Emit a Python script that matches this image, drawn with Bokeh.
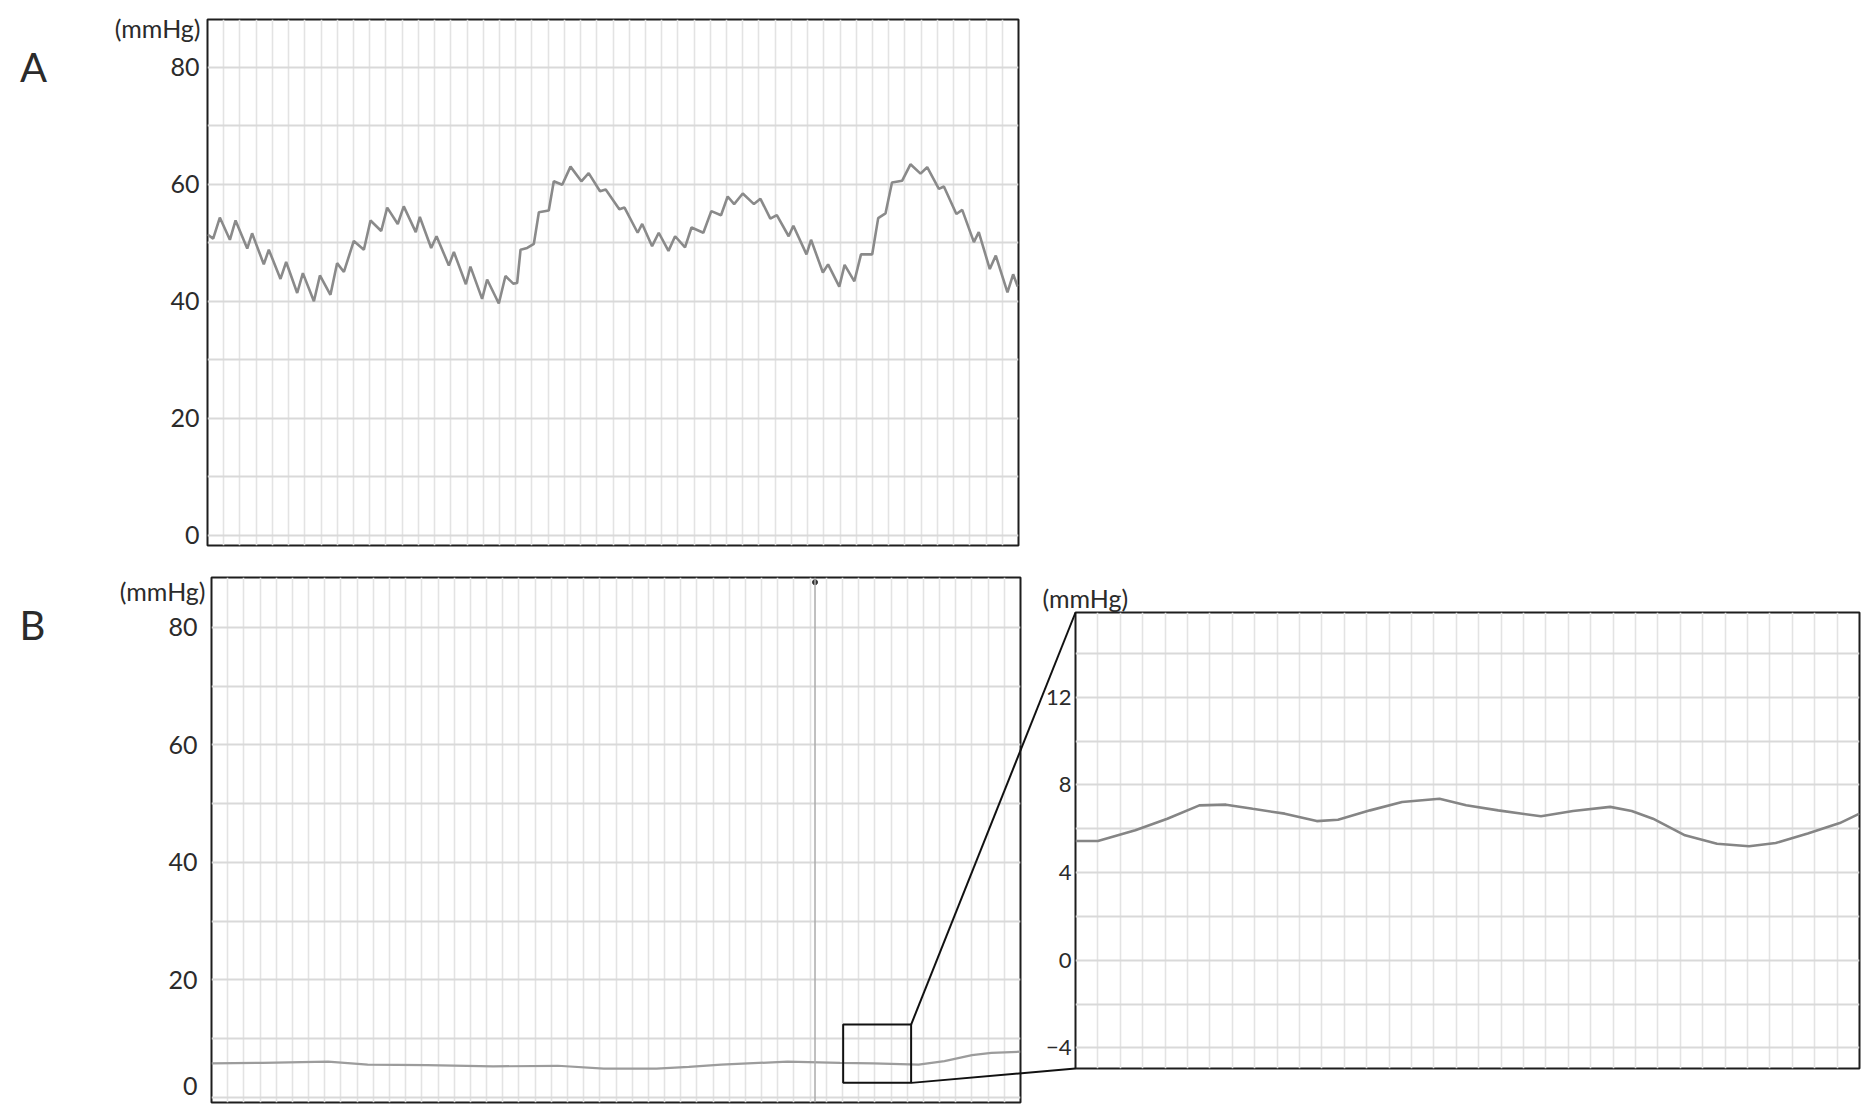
from bokeh.plotting import figure
from bokeh.layouts import column, row
from bokeh.models import FixedTicker, BoxAnnotation, Span
from bokeh.core.properties import value
from bokeh.embed import file_html
from bokeh.resources import INLINE

# ---------------- data ----------------
# Panel A: pressure trace (mmHg) against time (grid units)
A_T = [0.00, 0.35, 0.76, 1.38, 1.73, 2.45, 2.75, 3.47, 3.78, 4.50, 4.85, 5.53, 5.88, 6.56,
       6.93, 7.58, 7.99, 8.41, 9.02, 9.64, 10.05, 10.71, 11.08, 11.73, 12.10, 12.84, 13.09,
       13.79, 14.12, 14.88, 15.19, 15.93, 16.21, 16.93, 17.24, 17.96, 18.37, 18.85, 19.09,
       19.30, 19.71, 20.12, 20.43, 21.04, 21.35, 21.87, 22.38, 23.05, 23.50, 24.20, 24.55,
       25.39, 25.71, 26.52, 26.80, 27.41, 27.82, 28.42, 28.83, 29.44, 29.84, 30.57, 31.06,
       31.66, 32.07, 32.47, 33.00, 33.69, 34.09, 34.70, 35.10, 35.83, 36.12, 36.93, 37.21,
       37.94, 38.26, 38.95, 39.28, 39.88, 40.29, 40.98, 41.35, 41.80, 42.20, 42.83, 43.34,
       43.96, 44.37, 45.09, 45.40, 46.17, 46.53, 47.25, 47.55, 48.23, 48.60, 49.32, 49.67,
       49.95]
A_P = [51.4, 50.7, 54.3, 50.5, 53.8, 49.0, 51.6, 46.3, 48.8, 43.8, 46.7, 41.4, 44.8, 40.0,
       44.4, 41.1, 46.5, 45.0, 50.3, 48.8, 53.8, 52.0, 56.0, 53.2, 56.2, 51.8, 54.4,
       49.1, 51.1, 46.1, 48.4, 42.9, 45.9, 40.4, 43.7, 39.6, 44.3, 43.0, 43.1,
       48.8, 49.1, 49.8, 55.2, 55.5, 60.5, 59.9, 63.0, 60.5, 61.9, 58.8, 59.1,
       55.7, 56.0, 51.7, 53.2, 49.4, 51.7, 48.6, 51.1, 49.2, 52.6, 51.7, 55.4,
       54.7, 57.9, 56.6, 58.4, 56.6, 57.5, 54.1, 54.7, 51.1, 52.9, 48.0, 50.5,
       44.9, 46.3, 42.5, 46.2, 43.4, 48.0, 48.0, 54.2, 55.0, 60.3, 60.6, 63.4,
       61.8, 62.9, 59.2, 59.6, 54.9, 55.6, 50.1, 51.8, 45.5, 47.8, 41.5, 44.6,
       42.5]

# Panel B: near-flat trace
B_T = [0, 3.16, 7.2, 9.65, 13.3, 17.4, 21.4, 24.25, 27.5, 29.5, 31.5, 35.6, 38.85, 40.9,
       43.7, 45.3, 47.0, 48.2, 50]
B_P = [5.8, 5.9, 6.1, 5.6, 5.5, 5.3, 5.4, 4.9, 4.9, 5.2, 5.6, 6.1, 5.9, 5.8,
       5.6, 6.2, 7.2, 7.6, 7.8]

# Panel C: magnified view of the boxed part of B
C_T = [0, 1.0, 2.67, 4.1, 5.53, 6.72, 7.91, 9.34, 10.77, 11.72, 13.15, 14.58, 16.25, 17.44,
       18.87, 20.78, 22.21, 23.87, 24.83, 25.78, 27.21, 28.64, 30.07, 31.26, 32.69, 34.12, 35]
C_P = [5.44, 5.44, 5.93, 6.46, 7.07, 7.10, 6.91, 6.69, 6.35, 6.41, 6.84, 7.22, 7.37, 7.07,
       6.84, 6.57, 6.81, 7.0, 6.81, 6.46, 5.70, 5.32, 5.20, 5.35, 5.78, 6.26, 6.69]

AB_TICKS = [0, 20, 40, 60, 80]
C_TICKS = [-4, 0, 4, 8, 12]
ZOOM_T = [39.04, 43.24]     # extent of the box drawn in B (time)
ZOOM_P = [2.49, 12.41]      # extent of the box drawn in B (mmHg)
CURSOR_T = 37.3             # cursor line in B
UNIT = "(mmHg)"
PANEL_LETTERS = ["A", "B"]
B_ZERO_LABEL = "0"          # drawn slightly above its gridline, as in the original

FONT = "Lato"
TXT = "#2b2b2b"

# ranges
A_X, A_Y = (0, 50), (-1.76, 88.15)
B_X, B_Y = (0, 50), (-0.85, 88.5)
C_X, C_Y = (0, 35), (-4.94, 15.87)

# page geometry (pixels): borders and frame sizes of each canvas
W, H = 1865, 1110
A_G = dict(bl=207, bt=19, fw=811, fh=526, br=10, bb=15)
ROW2_TOP = A_G["bt"] + A_G["fh"] + A_G["bb"]
B_G = dict(bl=211, bt=17, fw=809, fh=525, br=10, bb=8)
SPLIT = B_G["bl"] + B_G["fw"] + B_G["br"]
C_G = dict(bl=45, bt=52, fw=784, fh=456, br=W - SPLIT - 45 - 784, bb=42)


def no_align(p):
    if "frame_align" in p.properties():
        p.frame_align = False


def panel(xr, yr, g, ticks, ygrid_step, n_vgrid, tick_size, standoff):
    p = figure(width=g["bl"] + g["fw"] + g["br"], height=g["bt"] + g["fh"] + g["bb"],
               x_range=xr, y_range=yr, x_axis_location=None,
               min_border_left=g["bl"], min_border_right=g["br"],
               min_border_top=g["bt"], min_border_bottom=g["bb"],
               toolbar_location=None, output_backend="svg",
               background_fill_color="white", border_fill_color=None)
    no_align(p)
    p.outline_line_color = "#1e1e1e"
    p.outline_line_width = 2
    ax = p.yaxis[0]
    ax.ticker = FixedTicker(ticks=ticks)
    ax.axis_line_color = None
    ax.major_tick_line_color = None
    ax.minor_tick_line_color = None
    ax.major_tick_out = 0
    ax.major_tick_in = 0
    ax.major_label_standoff = standoff
    ax.major_label_text_font = FONT
    ax.major_label_text_font_size = tick_size
    ax.major_label_text_color = TXT
    gy = []
    v = int(yr[0] // ygrid_step) * ygrid_step
    while v <= yr[1]:
        gy.append(v)
        v += ygrid_step
    p.ygrid.ticker = FixedTicker(ticks=gy)
    p.ygrid.grid_line_color = "#d9d9d9"
    p.ygrid.grid_line_width = 2
    p.xgrid.ticker = FixedTicker(ticks=list(range(0, n_vgrid + 1)))
    p.xgrid.grid_line_color = "#e3e3e3"
    p.xgrid.grid_line_width = 1.6
    return p


def lin(v, r, a, b):
    return a + (v - r[0]) / (r[1] - r[0]) * (b - a)


# ---------- A ----------
pa = panel(A_X, A_Y, A_G, AB_TICKS, 10, 50, "25px", 8)
pa.line(A_T, A_P, line_color="#8a8a8a", line_width=2.6)

# ---------- B ----------
pb = panel(B_X, B_Y, B_G, AB_TICKS, 10, 50, "25px", 14)
pb.yaxis[0].major_label_overrides = {0: ""}
pb.add_layout(Span(location=CURSOR_T, dimension="height", line_color="#ababab", line_width=1.5))
pb.line(B_T, B_P, line_color="#9c9c9c", line_width=2.2)
pb.scatter([CURSOR_T], [B_Y[1] - 0.8], size=5, color="#333333")
pb.add_layout(BoxAnnotation(left=ZOOM_T[0], right=ZOOM_T[1], bottom=ZOOM_P[0], top=ZOOM_P[1],
                            fill_alpha=0, line_color="#111111", line_alpha=1, line_width=2))
b_fl, b_ft = B_G["bl"], ROW2_TOP + B_G["bt"]
def b_page(t, v):
    return (lin(t, B_X, b_fl, b_fl + B_G["fw"]), lin(v, B_Y, b_ft + B_G["fh"], b_ft))

# ---------- C ----------
pc = panel(C_X, C_Y, C_G, C_TICKS, 2, 35, "22px", 4)
pc.line(C_T, C_P, line_color="#858585", line_width=2.6)
c_fl, c_ft = SPLIT + C_G["bl"], ROW2_TOP + C_G["bt"]

# ---------- transparent overlay (page-pixel coordinates) for texts and connectors ----------
ov = figure(width=W, height=H, x_range=(0, W), y_range=(H, 0),
            x_axis_location=None, y_axis_location=None,
            min_border=0, toolbar_location=None, output_backend="svg",
            background_fill_color=None, border_fill_color=None)
no_align(ov)
ov.outline_line_color = None
ov.xgrid.visible = False
ov.ygrid.visible = False
ov.margin = (-H, 0, 0, 0)

# connectors: box corners in B  ->  frame corners of C
x0s, y0s, x1s, y1s = [], [], [], []
for v_box, corner in ((ZOOM_P[1], (c_fl, c_ft)), (ZOOM_P[0], (c_fl, c_ft + C_G["fh"]))):
    p0 = b_page(ZOOM_T[1], v_box)
    x0s.append(p0[0]); y0s.append(p0[1]); x1s.append(corner[0]); y1s.append(corner[1])
ov.segment(x0s, y0s, x1s, y1s, line_color="#111111", line_width=2)

# letters and unit labels
ov.text(x=[33, 32], y=[66, 624], text=PANEL_LETTERS, text_font=value(FONT),
        text_font_size="40px", text_align="center", text_baseline="middle", text_color=TXT)
ov.text(x=[200, 205], y=[27, 590], text=[UNIT, UNIT], text_font=value(FONT),
        text_font_size="25px", text_align="right", text_baseline="middle", text_color=TXT)
ov.text(x=[1042], y=[597], text=[UNIT], text_font=value(FONT),
        text_font_size="25px", text_align="left", text_baseline="middle", text_color=TXT)
ov.text(x=[b_fl - 14], y=[1085], text=[B_ZERO_LABEL], text_font=value(FONT),
        text_font_size="25px", text_align="right", text_baseline="middle", text_color=TXT)

layout = column(pa, row(pb, pc), ov)
open("out.html", "w").write(file_html(layout, INLINE))
